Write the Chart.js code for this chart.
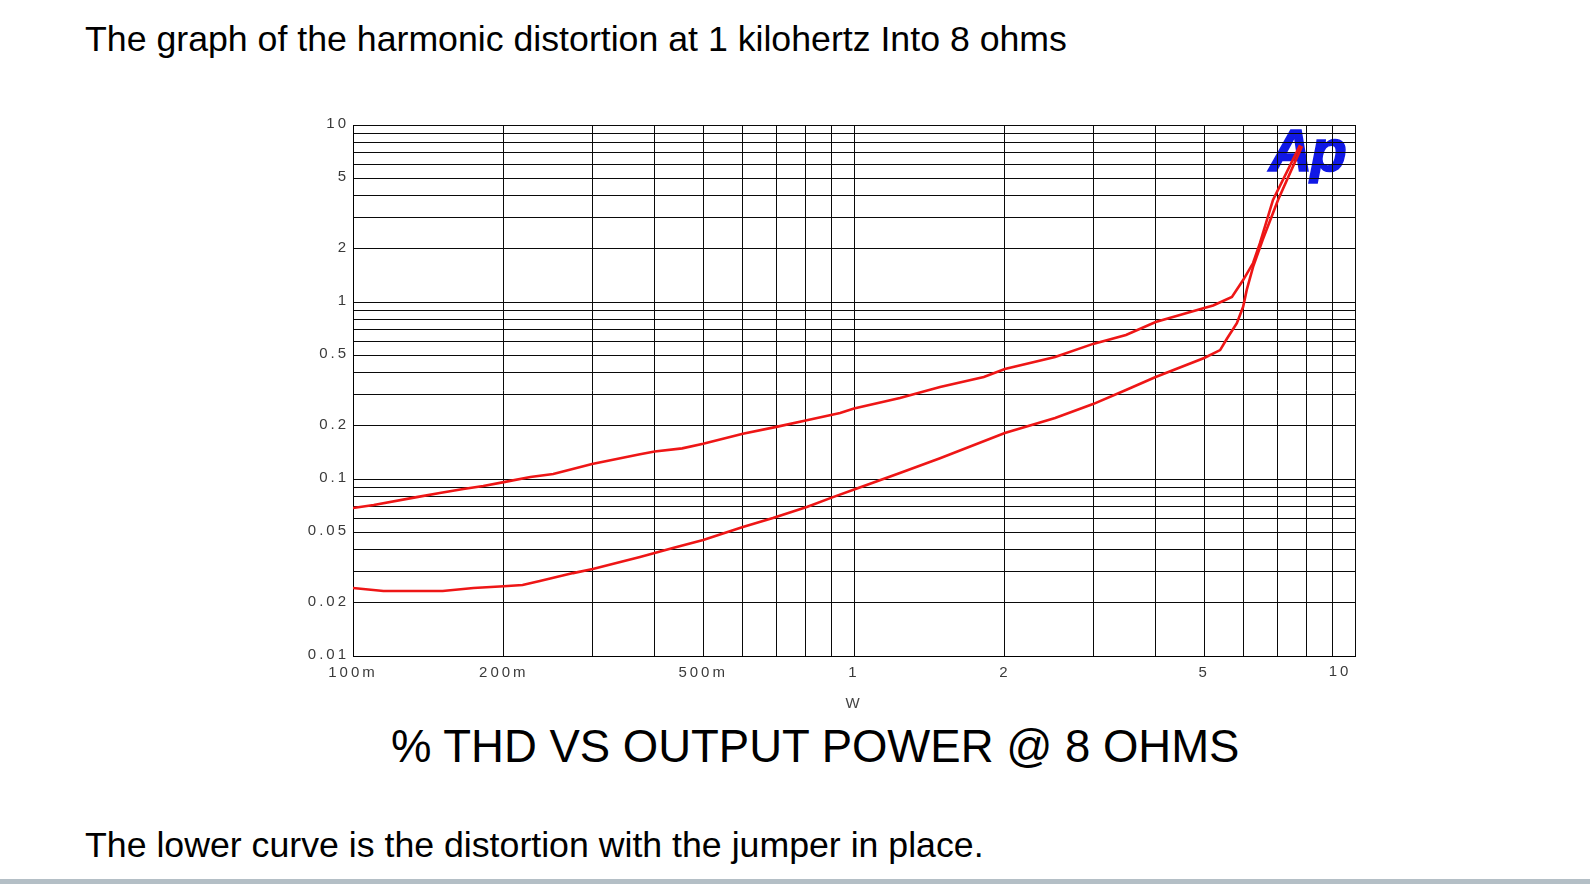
<!DOCTYPE html>
<html><head><meta charset="utf-8">
<script src="https://cdn.jsdelivr.net/npm/chart.js@4.4.1/dist/chart.umd.min.js"></script>
<style>
html,body{margin:0;padding:0;background:#fff;width:1590px;height:884px;overflow:hidden;}
.t{position:absolute;font-family:'Liberation Sans',Arial,sans-serif;color:#000;white-space:nowrap;}
#t1{left:85px;top:20.5px;font-size:35.7px;line-height:36px;}
#t2{left:391px;top:724px;font-size:45.5px;line-height:45px;}
#t3{left:85px;top:826.5px;font-size:35.7px;line-height:36px;}
#logo{left:1269px;top:122px;font-size:60px;line-height:58px;font-weight:bold;font-style:italic;color:rgb(16,24,230);-webkit-text-stroke:1.5px rgb(16,24,230);letter-spacing:-2px;z-index:0;}
#wrap{position:absolute;left:0;top:0;width:1590px;height:884px;z-index:1;}
#bar{position:absolute;left:0;top:879px;width:1590px;height:5px;background:#b4bfc6;}
</style></head>
<body>
<div class="t" id="t1">The graph of the harmonic distortion at 1 kilohertz Into 8 ohms</div>
<div class="t" id="logo">Ap</div>
<div id="wrap"><canvas id="c"></canvas></div>
<div class="t" id="t2">% THD VS OUTPUT POWER @ 8 OHMS</div>
<div class="t" id="t3">The lower curve is the distortion with the jumper in place.</div>
<div id="bar"></div>
<script>
// Upper curve (without jumper): output power (W) and %THD
const upperPower = [0.100,0.110,0.134,0.149,0.166,0.182,0.200,0.226,0.251,0.300,0.374,0.400,0.454,0.500,0.600,0.700,0.805,0.938,1.00,1.235,1.485,1.816,2.00,2.52,3.00,3.49,4.00,5.00,5.21,5.68,5.98,6.26,6.46,6.86,7.77];
const upperThd   = [0.0686,0.0713,0.0790,0.0834,0.0878,0.0912,0.0960,0.1026,0.1067,0.1216,0.138,0.143,0.149,0.158,0.180,0.197,0.215,0.236,0.250,0.287,0.331,0.377,0.418,0.489,0.580,0.651,0.770,0.925,0.955,1.067,1.33,1.66,2.15,3.77,7.7];
// Lower curve (jumper in place)
const lowerPower = [0.100,0.115,0.151,0.174,0.200,0.218,0.236,0.275,0.301,0.374,0.435,0.500,0.600,0.689,0.805,0.908,1.02,1.235,1.485,2.00,2.52,3.00,3.49,4.00,5.00,5.38,5.55,5.81,5.98,6.08,6.26,6.54,7.02,7.84];
const lowerThd   = [0.0242,0.0233,0.0233,0.0242,0.0248,0.0252,0.0265,0.0294,0.0310,0.0362,0.0407,0.0452,0.0535,0.0602,0.0695,0.0790,0.089,0.108,0.131,0.182,0.221,0.265,0.318,0.377,0.483,0.535,0.62,0.76,0.94,1.17,1.58,2.24,3.77,7.6];

const xGridValues = [0.1,0.2,0.3,0.4,0.5,0.6,0.7,0.8,0.9,1,2,3,4,5,6,7,8,9,10];
const xLabelValues = [0.1,0.2,0.5,1,2,5,10];
const xLabelTexts  = ['100m','200m','500m','1','2','5','10'];
const yGridValues = [0.01,0.02,0.03,0.04,0.05,0.06,0.07,0.08,0.09,0.1,0.2,0.3,0.4,0.5,0.6,0.7,0.8,0.9,1,2,3,4,5,6,7,8,9,10];
const yLabelValues = [0.01,0.02,0.05,0.1,0.2,0.5,1,2,5,10];
const yLabelTexts  = ['0.01','0.02','0.05','0.1','0.2','0.5','1','2','5','10'];
const xAxisTitle = 'W';

const tickFont = {family:"'Liberation Sans', Arial, sans-serif", size:15};
const tickColor = '#3a3a3a';
const red = 'rgb(238,22,22)';
const spacing = '3px';

const pts = (xs, ys) => xs.map((x,i)=>({x:x, y:ys[i]}));

const spacingPlugin = {
  id:'spacing',
  beforeDraw(chart){ chart.ctx.letterSpacing = spacing; },
  afterDraw(chart){
    const ctx = chart.ctx, xs = chart.scales.x;
    ctx.save();
    ctx.letterSpacing = spacing;
    ctx.font = "15px 'Liberation Sans', Arial, sans-serif";
    ctx.fillStyle = tickColor;
    ctx.textAlign = 'center';
    ctx.textBaseline = 'top';
    const v = xLabelValues[xLabelValues.length-1];
    ctx.fillText(xLabelTexts[xLabelTexts.length-1], xs.getPixelForValue(v) - 15, xs.top + 8);
    ctx.restore();
    ctx.letterSpacing = '0px';
  }
};

new Chart(document.getElementById('c'), {
  type:'line',
  data:{datasets:[
    {data:pts(upperPower, upperThd), borderColor:red, borderWidth:2.6, pointRadius:0, tension:0, fill:false},
    {data:pts(lowerPower, lowerThd), borderColor:red, borderWidth:2.6, pointRadius:0, tension:0, fill:false}
  ]},
  options:{
    responsive:true, maintainAspectRatio:false, animation:false,
    layout:{padding:{left:253,right:235,top:125,bottom:168}},
    plugins:{legend:{display:false}, tooltip:{enabled:false}},
    scales:{
      x:{type:'logarithmic', min:0.1, max:10,
        afterBuildTicks:(s)=>{ s.ticks = xGridValues.map(v=>({value:v})); },
        afterFit:(s)=>{ s.height = 60; },
        grid:{color:'#0a0a0a', lineWidth:1, drawTicks:false},
        border:{color:'#000', width:1},
        ticks:{autoSkip:false, maxRotation:0, padding:8, font:tickFont, color:tickColor,
          callback:(v)=>{ const i = xLabelValues.indexOf(v); return (i>=0 && i<xLabelValues.length-1) ? xLabelTexts[i] : ''; }},
        title:{display:true, text:xAxisTitle, font:tickFont, color:'#444', padding:{top:0,bottom:3}}
      },
      y:{type:'logarithmic', min:0.01, max:10,
        afterBuildTicks:(s)=>{ s.ticks = yGridValues.map(v=>({value:v})); },
        afterFit:(s)=>{ s.width = 100; },
        grid:{color:'#0a0a0a', lineWidth:1, drawTicks:false},
        border:{color:'#000', width:1},
        ticks:{autoSkip:false, padding:4, labelOffset:-1, font:tickFont, color:tickColor,
          callback:(v)=>{ const i = yLabelValues.indexOf(v); return i>=0 ? yLabelTexts[i] : ''; }}
      }
    }
  },
  plugins:[spacingPlugin]
});
</script>
</body></html>
